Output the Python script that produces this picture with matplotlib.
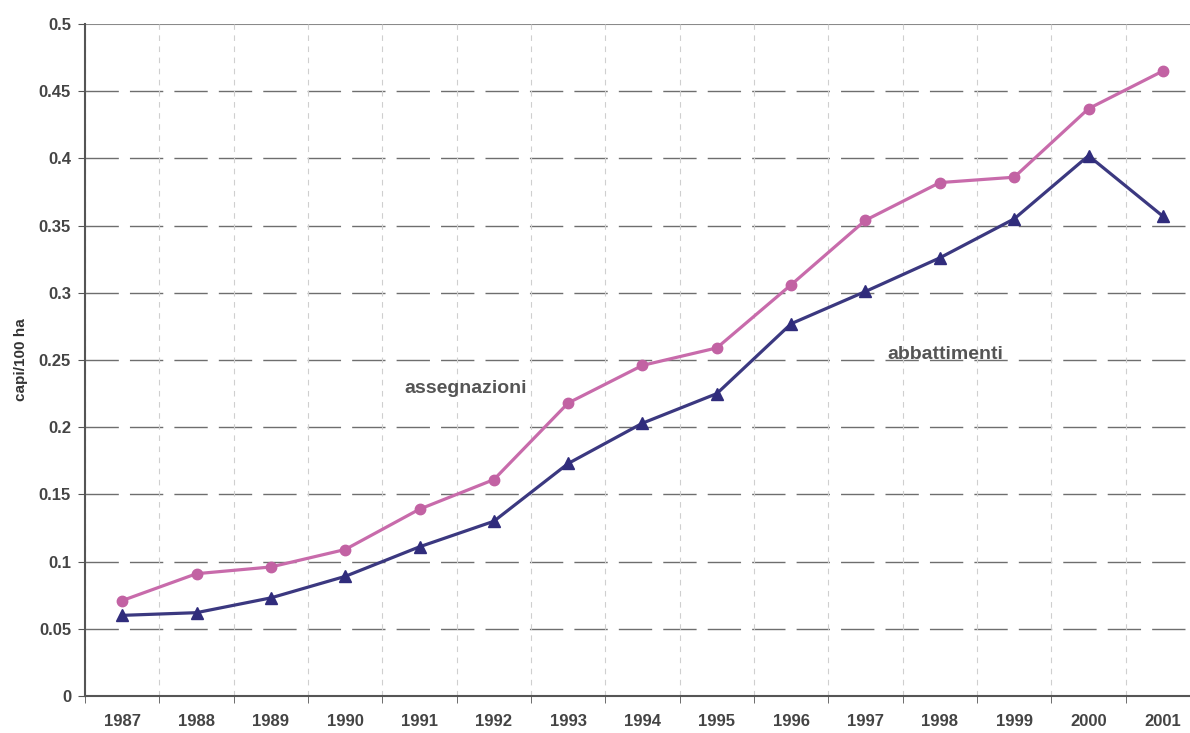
import matplotlib
matplotlib.use('Agg')
import matplotlib.pyplot as plt
import numpy as np

years = ['1987', '1988', '1989', '1990', '1991', '1992', '1993', '1994',
         '1995', '1996', '1997', '1998', '1999', '2000', '2001']
assegnazioni = [0.071, 0.091, 0.096, 0.109, 0.139, 0.161, 0.218, 0.246,
                0.259, 0.306, 0.354, 0.382, 0.386, 0.437, 0.465]
abbattimenti = [0.060, 0.062, 0.073, 0.089, 0.111, 0.130, 0.173, 0.203,
                0.225, 0.277, 0.301, 0.326, 0.355, 0.402, 0.357]
yticks = [0, 0.05, 0.1, 0.15, 0.2, 0.25, 0.3, 0.35, 0.4, 0.45, 0.5]
ytick_labels = ['0', '0.05', '0.1', '0.15', '0.2', '0.25', '0.3', '0.35',
                '0.4', '0.45', '0.5']

plt.rcParams['font.family'] = ['Liberation Sans', 'DejaVu Sans']

fig = plt.figure(figsize=(11.9, 7.33), dpi=100)
# the plot area runs a little past the right edge of the picture
ax = fig.add_axes([85 / 1190, 1 - 696 / 733, 1115 / 1190, 672 / 733])

x = np.arange(len(years))
ax.set_xlim(-0.5, len(years) - 0.5)
ax.set_ylim(0, 0.5)

# grid: long dashes across, short light dashes between the years
for v in yticks[1:-1]:
    ax.axhline(v, color='#6e6e6e', lw=1, ls=(0, (24, 8)), zorder=1)
ax.axhline(0.5, color='#8a8a8a', lw=1.5, zorder=1)
ax.set_xticks(x - 0.5, minor=True)
ax.grid(True, which='minor', axis='x', color='#cfcfcf', lw=0.8, ls=(0, (5, 5)))

ax.plot(x, assegnazioni, color='#c86bab', lw=2.3, marker='o', ms=7.5,
        mfc='#c262a3', mec='#c262a3', zorder=3)
ax.plot(x, abbattimenti, color='#3b3880', lw=2.3, marker='^', ms=8,
        mfc='#302c7c', mec='#302c7c', zorder=3)

ax.text(4.62, 0.229, 'assegnazioni', fontsize=14, fontweight='bold',
        color='#555555', ha='center', va='center')
ax.text(11.08, 0.254, 'abbattimenti', fontsize=14, fontweight='bold',
        color='#555555', ha='center', va='center')

ax.set_xticks(x)
ax.set_xticklabels(years)
ax.set_yticks(yticks)
ax.set_yticklabels(ytick_labels)
ax.tick_params(axis='x', which='major', length=0, pad=13, labelsize=12,
               labelcolor='#444444')
ax.tick_params(axis='x', which='minor', length=5, color='#555555', direction='out')
ax.tick_params(axis='y', length=5, color='#555555', labelsize=12,
               labelcolor='#444444', pad=5)
for lab in ax.get_xticklabels() + ax.get_yticklabels():
    lab.set_fontweight('bold')

for side in ['top', 'right']:
    ax.spines[side].set_visible(False)
ax.spines['left'].set_color('#555555')
ax.spines['left'].set_linewidth(1.5)
ax.spines['bottom'].set_color('#555555')
ax.spines['bottom'].set_linewidth(1.5)

ax.set_ylabel('capi/100 ha', fontsize=11, fontweight='bold', color='#333333',
              labelpad=8)

fig.savefig('out.png', dpi=100)
